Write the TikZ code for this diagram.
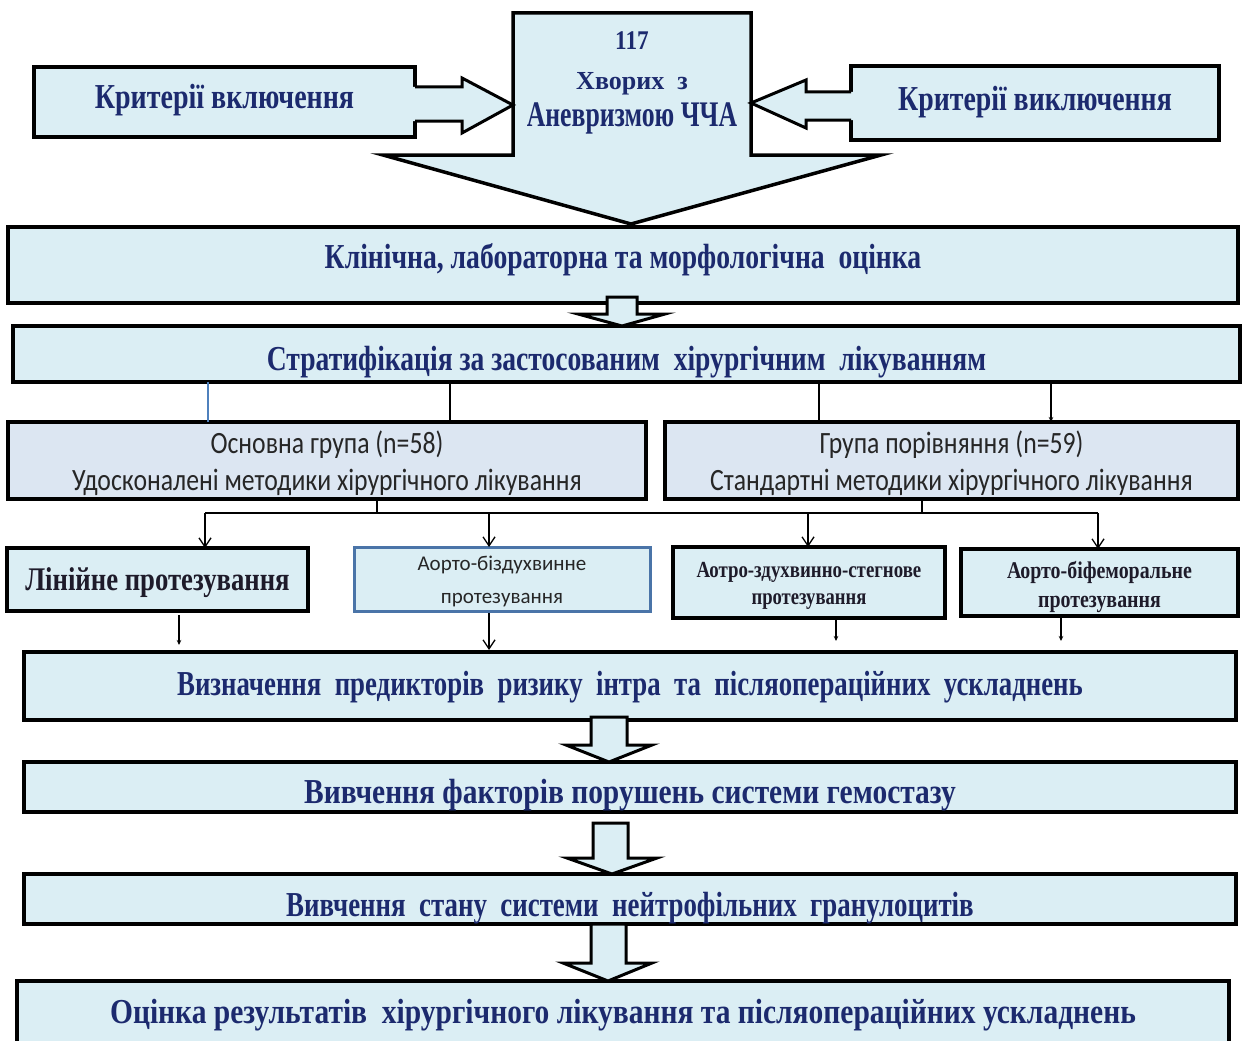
\documentclass[tikz,border=0pt]{standalone}
\usepackage{fontspec}
\usepackage{graphicx}
\setmainfont{Liberation Serif}
\newfontfamily\grpfont{Carlito}
\usetikzlibrary{arrows.meta,calc}
\definecolor{boxfill}{HTML}{DBEEF4}
\definecolor{grpfill}{HTML}{DCE6F2}
\definecolor{navy}{HTML}{1C2A6E}
\definecolor{darktxt}{HTML}{1E1B2A}
\definecolor{grptext}{HTML}{262626}
\definecolor{bluebord}{HTML}{4A74A8}
\definecolor{blueline}{HTML}{4F81BD}
\newcommand\fs[2]{\fontsize{#1}{#2}\selectfont}
% one text line: baseline #1 below the node centre, horizontal scale #2
\newcommand\tl[3]{\makebox[0pt]{\raisebox{-#1}[0pt][0pt]{\scalebox{#2}[1]{#3}}}}
\begin{document}
\begin{tikzpicture}[x=1pt,y=-1pt,
  mainbox/.style={draw=black, line width=3.5pt, fill=boxfill, inner sep=0pt, outer sep=0pt, text=navy, font=\bfseries\fs{35}{40}},
  smallbox/.style={draw=black, line width=3.5pt, fill=boxfill, inner sep=0pt, outer sep=0pt, text=darktxt, font=\bfseries},
  grpbox/.style={draw=black, line width=3.5pt, fill=grpfill, inner sep=0pt, outer sep=0pt, text=grptext, font=\grpfont\fs{31}{40}},
  barrow/.style={draw=black, line width=3pt, fill=boxfill, line join=miter},
  barrowline/.style={draw=black, line width=3pt, line join=miter},
  thinline/.style={draw=black, line width=1.4pt},
  blueln/.style={draw=blueline, line width=2pt},
  openhead/.style={thinline, -{Straight Barb[length=9pt,width=12pt,line width=1.3pt]}},
  smallhead/.style={thinline, -{Stealth[length=5pt,width=4.5pt]}},
]
\useasboundingbox (0,0) rectangle (1243,1041);
\fill[white] (0,0) rectangle (1243,1041);

% ---- top row ----
\coordinate (patc) at (632,84);
\path[fill=boxfill, draw=black, line width=3.5pt, line join=miter]
  (513,13) -- (751,13) -- (751,155) -- (881,155) -- (631,224) -- (383,155) -- (513,155) -- cycle;
\node[minimum width=238pt, minimum height=142pt, inner sep=0pt, outer sep=0pt, text=navy, font=\bfseries] (pat) at (patc)
  {\tl{-34pt}{0.86}{\fs{27}{27}117}\tl{6pt}{1.0}{\fs{26}{26}Хворих~ з}\tl{43pt}{0.715}{\fs{36}{36}Аневризмою ЧЧА}};

\node[mainbox, minimum width=381pt, minimum height=70pt] (incl) at (224.5,102) {\tl{6pt}{0.8}{Критерії включення}};
\node[mainbox, minimum width=368pt, minimum height=74pt] (excl) at (1035,103) {\tl{7pt}{0.795}{Критерії виключення}};

% block arrow incl -> pat
\fill[boxfill] (412,87) -- (462,87) -- (462,78) -- (pat.west |- 0,105) -- (462,133) -- (462,121) -- (412,121) -- cycle;
\draw[barrowline] (incl.east |- 0,87) -- (462,87) -- (462,78) -- (pat.west |- 0,105) -- (462,133) -- (462,121) -- (incl.east |- 0,121);
% block arrow excl -> pat
\fill[boxfill] (854,92) -- (806,92) -- (806,80) -- (pat.east |- 0,103) -- (806,128) -- (806,120) -- (854,120) -- cycle;
\draw[barrowline] (excl.west |- 0,92) -- (806,92) -- (806,80) -- (pat.east |- 0,103) -- (806,128) -- (806,120) -- (excl.west |- 0,120);

% ---- main boxes ----
\node[mainbox, minimum width=1230pt, minimum height=76pt] (klin) at (623,265)
  {\tl{3pt}{0.79}{Клінічна, лабораторна та морфологічна~ оцінка}};
\node[mainbox, minimum width=1227pt, minimum height=56pt] (strat) at (626.5,354)
  {\tl{16pt}{0.788}{Стратифікація за застосованим~ хірургічним~ лікуванням}};

\node[grpbox, minimum width=638pt, minimum height=77pt] (grpL) at (327,460.5)
  {\tl{-7pt}{0.83}{Основна група (n=58)}\tl{30pt}{0.83}{Удосконалені методики хірургічного лікування}};
\node[grpbox, minimum width=573pt, minimum height=77pt] (grpR) at (951.5,460.5)
  {\tl{-7pt}{0.83}{Група порівняння (n=59)}\tl{30pt}{0.83}{Стандартні методики хірургічного лікування}};

\node[smallbox, minimum width=301pt, minimum height=63pt, font=\bfseries\fs{33}{33}] (lin) at (157.5,579.5)
  {\tl{10.5pt}{0.81}{Лінійне протезування}};
\node[draw=bluebord, line width=3pt, fill=boxfill, inner sep=0pt, outer sep=0pt, text=grptext,
      font=\grpfont\fs{21}{21}, minimum width=296pt, minimum height=64pt] (abiz) at (502,579)
  {\tl{-9pt}{1}{Аорто-біздухвинне}\tl{24pt}{1}{протезування}};
\node[smallbox, minimum width=272pt, minimum height=71pt, font=\bfseries\fs{23}{23}] (aotro) at (809,582.5)
  {\tl{-5.5pt}{0.82}{Аотро-здухвинно-стегнове}\tl{21.5pt}{0.81}{протезування}};
\node[smallbox, minimum width=277pt, minimum height=67pt, font=\bfseries\fs{24}{24}] (bifem) at (1099.5,582.5)
  {\tl{-4.5pt}{0.83}{Аорто-біфеморальне}\tl{24.5pt}{0.83}{протезування}};

\node[mainbox, minimum width=1212pt, minimum height=68pt] (viz) at (630,686)
  {\tl{9pt}{0.766}{Визначення~ предикторів~ ризику~ інтра~ та~ післяопераційних~ ускладнень}};
\node[mainbox, minimum width=1212pt, minimum height=50pt] (fakt) at (630,787)
  {\tl{16pt}{0.842}{Вивчення факторів порушень системи гемостазу}};
\node[mainbox, minimum width=1212pt, minimum height=50pt] (stan) at (630,899)
  {\tl{17pt}{0.768}{Вивчення~ стану~ системи~ нейтрофільних~ гранулоцитів}};
\node[mainbox, minimum width=1212pt, minimum height=64pt] (ocin) at (623,1013)
  {\tl{10pt}{0.843}{Оцінка результатів~ хірургічного лікування та післяопераційних ускладнень}};

% ---- block arrows ----
\draw[barrow] (607,297) -- (637,297) -- (637,314) -- (665,314) -- (strat.north -| 622,0) -- (578,314) -- (607,314) -- cycle;
\draw[barrow] (591,717) -- (627,717) -- (627,745) -- (652,745) -- (fakt.north -| 609,0) -- (566,745) -- (591,745) -- cycle;
\draw[barrow] (593,823) -- (628,823) -- (628,858) -- (657,858) -- (stan.north -| 612,0) -- (567,858) -- (593,858) -- cycle;
\draw[barrow] (591,924) -- (626,924) -- (626,963) -- (652,963) -- (ocin.north -| 608,0) -- (563,963) -- (591,963) -- cycle;

% ---- thin connectors ----
\draw[blueln] (strat.south -| 208,0) -- (grpL.north -| 208,0);
\draw[thinline] (strat.south -| 450,0) -- (grpL.north -| 450,0);
\draw[thinline] (strat.south -| 819,0) -- (grpR.north -| 819,0);
\draw[smallhead] (strat.south -| 1051,0) -- (grpR.north -| 1051,0);

\coordinate (busL) at (205,513);
\coordinate (busR) at (1098,513);
\draw[thinline] (grpL.south -| 377,0) -- (busL -| 377,0);
\draw[thinline] (grpR.south -| 922,0) -- (busL -| 922,0);
\draw[thinline] (busL) -- (busR);
\draw[openhead] (busL) -- (lin.north -| busL);
\draw[openhead] (busL -| 489,0) -- (abiz.north -| 489,0);
\draw[openhead] (busL -| 808,0) -- (aotro.north -| 808,0);
\draw[openhead] (busR) -- (bifem.north -| busR);

\draw[smallhead, shorten <=4pt, shorten >=7pt] (lin.south -| 179,0) -- (viz.north -| 179,0);
\draw[openhead, shorten <=2pt, shorten >=2pt] (abiz.south -| 489,0) -- (viz.north -| 489,0);
\draw[smallhead, shorten <=2pt, shorten >=11pt] (aotro.south -| 836,0) -- (viz.north -| 836,0);
\draw[smallhead, shorten <=2pt, shorten >=11pt] (bifem.south -| 1061,0) -- (viz.north -| 1061,0);
\end{tikzpicture}
\end{document}
